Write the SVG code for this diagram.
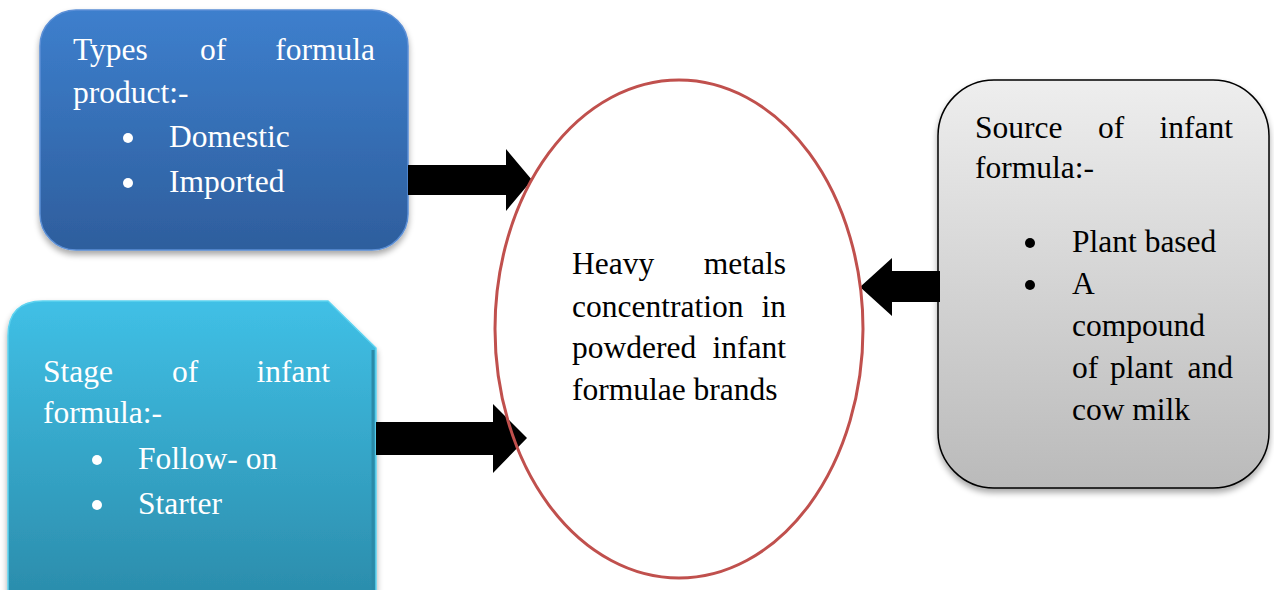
<svg xmlns="http://www.w3.org/2000/svg" width="1274" height="590" viewBox="0 0 1274 590" font-family="Liberation Serif, serif" font-size="31.5">
<defs>
<linearGradient id="gBlue" x1="0" y1="0" x2="0" y2="1">
<stop offset="0" stop-color="#3d7fcd"/>
<stop offset="1" stop-color="#2e5e9d"/>
</linearGradient>
<linearGradient id="gTeal" x1="0" y1="0" x2="0" y2="1">
<stop offset="0" stop-color="#40c0e6"/>
<stop offset="1" stop-color="#2b8cab"/>
</linearGradient>
<linearGradient id="gGray" x1="0" y1="0" x2="0" y2="1">
<stop offset="0" stop-color="#eeeeee"/>
<stop offset="1" stop-color="#bababa"/>
</linearGradient>
<filter id="sh" x="-10%" y="-10%" width="120%" height="125%">
<feGaussianBlur in="SourceAlpha" stdDeviation="3"/>
<feOffset dx="0" dy="4" result="b"/>
<feComponentTransfer><feFuncA type="linear" slope="0.35"/></feComponentTransfer>
<feMerge><feMergeNode/><feMergeNode in="SourceGraphic"/></feMerge>
</filter>
</defs>
<style>
text{font-family:'Liberation Serif',serif;font-size:31.5px}
.w{fill:#ffffff}
.k{fill:#000000}
.e{text-anchor:end}
.arrow{fill:#000000}
</style>
<rect width="1274" height="590" fill="#ffffff"/>

<g id="node-types">
<rect x="40" y="10" width="368" height="240" rx="36" fill="url(#gBlue)" stroke="#5b8fd6" stroke-width="1.5" filter="url(#sh)"/>
<text class="w" x="73" y="60">Types</text>
<text class="w" x="200" y="60">of</text>
<text class="w e" x="375" y="60">formula</text>
<text class="w" x="73" y="103">product:-</text>
<circle class="w" cx="128" cy="138" r="5"/>
<text class="w" x="169" y="147">Domestic</text>
<circle class="w" cx="128" cy="183" r="5"/>
<text class="w" x="169" y="192">Imported</text>
</g>

<g id="node-stage">
<path d="M8,600 L8,336 Q8,301 43,301 L328,301 L376,348 L376,600 Z" fill="url(#gTeal)" stroke="#5fd3f0" stroke-width="1.5" filter="url(#sh)"/>
<line x1="373" y1="350" x2="373" y2="590" stroke="#2a8aa8" stroke-width="3"/>
<text class="w" x="43" y="382">Stage</text>
<text class="w" x="172" y="382">of</text>
<text class="w e" x="330" y="382">infant</text>
<text class="w" x="43" y="423">formula:-</text>
<circle class="w" cx="97" cy="460" r="5"/>
<text class="w" x="138" y="469">Follow- on</text>
<circle class="w" cx="97" cy="505" r="5"/>
<text class="w" x="138" y="514">Starter</text>
</g>

<g id="node-source">
<rect x="938" y="80" width="331" height="408" rx="56" fill="url(#gGray)" stroke="#000000" stroke-width="1.5" filter="url(#sh)"/>
<text class="k" x="975" y="138">Source</text>
<text class="k" x="1098" y="138">of</text>
<text class="k e" x="1233" y="138">infant</text>
<text class="k" x="975" y="178">formula:-</text>
<circle class="k" cx="1030" cy="243" r="5"/>
<text class="k" x="1072" y="252">Plant based</text>
<circle class="k" cx="1030" cy="285" r="5"/>
<text class="k" x="1072" y="294">A</text>
<text class="k" x="1072" y="336">compound</text>
<text class="k" x="1072" y="378">of</text>
<text class="k" x="1110" y="378">plant</text>
<text class="k e" x="1233" y="378">and</text>
<text class="k" x="1072" y="420">cow milk</text>
</g>

<g id="connectors">
<polygon class="arrow" points="408,165 506,165 506,149 532,180 506,211 506,195 408,195"/>
<polygon class="arrow" points="376,422 493,422 493,404 527,438 493,473 493,455 376,455"/>
<polygon class="arrow" points="940,271 892,271 892,258 860,287 892,316 892,302 940,302"/>
</g>

<g id="node-center">
<ellipse cx="679" cy="329" rx="184" ry="249" fill="none" stroke="#c0504d" stroke-width="3"/>
<text class="k" x="572" y="274">Heavy</text>
<text class="k e" x="786" y="274">metals</text>
<text class="k" x="572" y="317">concentration</text>
<text class="k e" x="786" y="317">in</text>
<text class="k" x="572" y="358">powdered</text>
<text class="k e" x="786" y="358">infant</text>
<text class="k" x="572" y="400">formulae brands</text>
</g>
</svg>
